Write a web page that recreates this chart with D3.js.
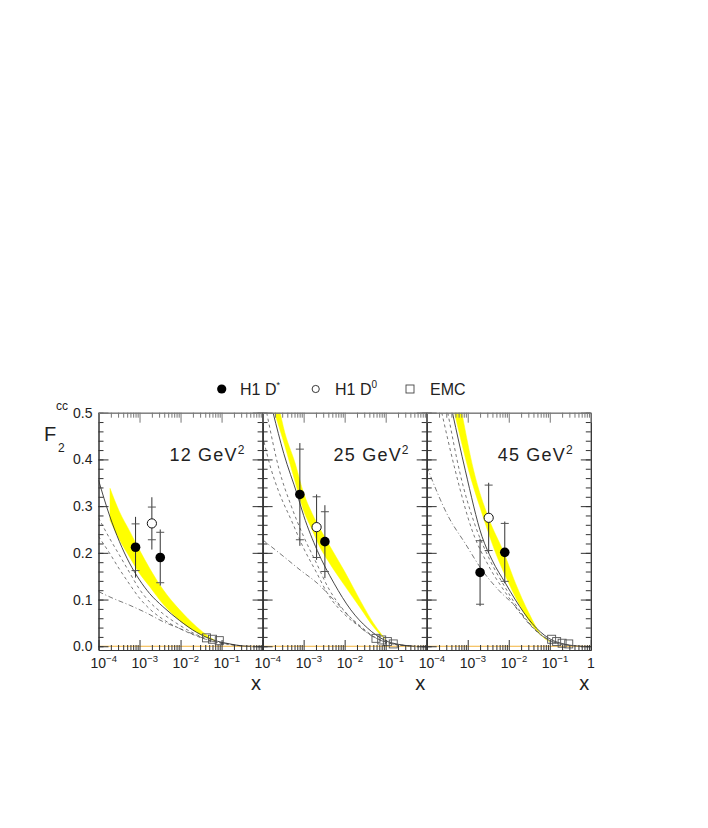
<!DOCTYPE html>
<html>
<head>
<meta charset="utf-8">
<script src="https://cdn.jsdelivr.net/npm/d3@7"></script>
<style>
  body { margin: 0; background: #fff; }
  text { font-family: "Liberation Sans", Arial, sans-serif; fill: #222; }
</style>
</head>
<body>
<svg id="chart" width="708" height="828"></svg>
<script>
// values, one entry per Q2 panel
var q2Labels = ["12", "25", "45"];

// H1 D* and D0 points: [x, F2, stat err, total err]
var dstar = [
  [[8.0e-4, 0.212, 0.050, 0.065], [3.2e-3, 0.190, 0.054, 0.060]],
  [[8.1e-4, 0.325, 0.097, 0.110], [3.3e-3, 0.224, 0.064, 0.078]],
  [[2.0e-3, 0.158, 0.068, 0.072], [8.0e-3, 0.201, 0.062, 0.066]]
];
var dzero = [
  [[2.0e-3, 0.263, 0.035, 0.056]],
  [[2.07e-3, 0.255, 0.065, 0.070]],
  [[3.24e-3, 0.275, 0.070, 0.075]]
];
// EMC points: [x, F2]
var emc = [
  [[0.043, 0.018], [0.060, 0.015], [0.088, 0.012]],
  [[0.058, 0.017], [0.080, 0.0135], [0.110, 0.010], [0.153, 0.005]],
  [[0.111, 0.015], [0.147, 0.010], [0.200, 0.0065], [0.290, 0.005]]
];

// theory curves: [x, F2]
var solid = [
  [[1e-4,0.356],[1.84e-4,0.281],[3.24e-4,0.224],[5.7e-4,0.178],[1e-3,0.142],[1.76e-3,0.113],[3.7e-3,0.085],[9.5e-3,0.055],[2.45e-2,0.030],[6.3e-2,0.0135],[0.16,0.005],[0.3,0.001],[0.5,0]],
  [[1.8e-4,0.5],[3.27e-4,0.413],[6.97e-4,0.325],[1e-3,0.28],[2.15e-3,0.205],[5.5e-3,0.135],[1.41e-2,0.078],[3.6e-2,0.039],[9.2e-2,0.0135],[0.24,0.003],[0.5,0]],
  [[4.25e-4,0.5],[8.7e-4,0.377],[2.23e-3,0.235],[3.9e-3,0.185],[8.3e-3,0.135],[1.46e-2,0.099],[3.7e-2,0.049],[9.5e-2,0.017],[0.245,0.004],[0.6,0]]
];
var bandHi = [
  [[1.91e-4,0.338],[3.24e-4,0.288],[5.7e-4,0.247],[1e-3,0.206],[1.76e-3,0.167],[3.7e-3,0.122],[9.5e-3,0.078],[2.45e-2,0.042],[4.7e-2,0.022],[0.07,0.012]],
  [[2.69e-4,0.5],[3.2e-4,0.47],[6.3e-4,0.39],[1e-3,0.328],[1.6e-3,0.285],[2.5e-3,0.252],[4e-3,0.22],[1e-2,0.16],[2.5e-2,0.095],[5e-2,0.05],[8e-2,0.025],[0.1,0.015]],
  [[7.2e-4,0.5],[1.39e-3,0.377],[3.24e-3,0.274],[7.55e-3,0.201],[1.46e-2,0.135],[3.1e-2,0.071],[6.6e-2,0.021],[0.1,0.01]]
];
var bandLo = [
  [[1.91e-4,0.270],[3.24e-4,0.228],[5.7e-4,0.191],[1e-3,0.156],[1.76e-3,0.128],[3.7e-3,0.091],[9.5e-3,0.055],[2.45e-2,0.030],[4.7e-2,0.017],[0.07,0.012]],
  [[1.94e-4,0.5],[3.2e-4,0.44],[6.3e-4,0.35],[1e-3,0.29],[1.6e-3,0.25],[2.5e-3,0.212],[4e-3,0.182],[1e-2,0.13],[2.5e-2,0.08],[5e-2,0.042],[8e-2,0.022],[0.1,0.015]],
  [[4.75e-4,0.5],[1.05e-3,0.377],[2.44e-3,0.274],[4.72e-3,0.201],[1e-2,0.135],[2.13e-2,0.078],[5.4e-2,0.028],[0.1,0.01]]
];
var dashA = [
  [[1e-4,0.275],[1.84e-4,0.232],[3.24e-4,0.195],[5.7e-4,0.158],[1e-3,0.122],[1.76e-3,0.095],[3.7e-3,0.070],[9.5e-3,0.045],[2.45e-2,0.025],[6.3e-2,0.011],[0.16,0.004],[0.3,0.001]],
  [[1.26e-4,0.5],[2.5e-4,0.38],[5e-4,0.3],[1e-3,0.235],[2e-3,0.18],[4e-3,0.125],[1e-2,0.075],[2.5e-2,0.042],[5e-2,0.021],[0.1,0.009],[0.2,0.003],[0.4,0.001]],
  [[3.27e-4,0.5],[6.5e-4,0.37],[1.5e-3,0.26],[3.24e-3,0.19],[8.3e-3,0.125],[2e-2,0.072],[5e-2,0.031],[0.12,0.009],[0.3,0.002]]
];
var dashB = [
  [[1e-4,0.235],[1.84e-4,0.2],[3.24e-4,0.165],[5.7e-4,0.133],[1e-3,0.103],[1.76e-3,0.08],[3.7e-3,0.058],[9.5e-3,0.038],[2.45e-2,0.022],[6.3e-2,0.01],[0.16,0.004],[0.3,0.001]],
  [[1e-4,0.45],[1.6e-4,0.38],[2.5e-4,0.33],[5e-4,0.27],[1e-3,0.21],[2e-3,0.16],[4e-3,0.11],[1e-2,0.068],[2.5e-2,0.04],[5e-2,0.021],[0.1,0.009],[0.2,0.003],[0.4,0.001]],
  [[2.33e-4,0.5],[4.94e-4,0.377],[1.27e-3,0.249],[3.24e-3,0.172],[8.3e-3,0.115],[2e-2,0.068],[5e-2,0.03],[0.12,0.009],[0.3,0.002]]
];
var dashDot = [
  [[1e-4,0.117],[2.2e-4,0.103],[5.7e-4,0.088],[1.5e-3,0.071],[3.7e-3,0.053],[9.5e-3,0.038],[2.45e-2,0.023],[6.3e-2,0.01],[0.16,0.004],[0.3,0.001]],
  [[1e-4,0.228],[3.27e-4,0.192],[8.3e-4,0.163],[2.15e-3,0.135],[5.5e-3,0.099],[1.41e-2,0.060],[3.6e-2,0.028],[9e-2,0.01],[0.2,0.003],[0.4,0.001]],
  [[1e-4,0.385],[3.4e-4,0.277],[8.7e-4,0.22],[2.24e-3,0.163],[5.7e-3,0.12],[1.46e-2,0.085],[3.7e-2,0.042],[9e-2,0.015],[0.25,0.003]]
];

var xMajor = [1e-4, 1e-3, 1e-2, 1e-1, 1];
var xExp = ["-4", "-3", "-2", "-1"];
var yMajor = [0, 0.1, 0.2, 0.3, 0.4, 0.5];

var svg = d3.select("#chart");
svg.append("rect").attr("width", 708).attr("height", 828).attr("fill", "#fff");

var left0 = 98.5, pw = 164.1, yTop = 412.7, yBottom = 650;
var y = d3.scaleLinear().domain([-0.008, 0.5]).range([yBottom, yTop]);

var xMinor = [];
[1e-4, 1e-3, 1e-2, 1e-1].forEach(function(d) {
  for (var m = 2; m <= 9; m++) xMinor.push(d * m);
});
var yMinor = d3.range(0, 0.501, 0.02);

var frameColor = "#333";

q2Labels.forEach(function(q, i) {
  var x0 = left0 + i * pw, x1 = x0 + pw;
  var x = d3.scaleLog().domain([1e-4, 1]).range([x0, x1]);
  var g = svg.append("g");

  g.append("clipPath").attr("id", "clip" + i)
    .append("rect").attr("x", x0).attr("y", yTop).attr("width", pw).attr("height", yBottom - yTop);
  var plot = g.append("g").attr("clip-path", "url(#clip" + i + ")");

  var line = d3.line().x(function(d) { return x(d[0]); }).y(function(d) { return y(d[1]); })
    .curve(d3.curveMonotoneX);

  // yellow band
  var hi = line(bandHi[i]);
  var lo = line(bandLo[i].slice().reverse());
  plot.append("path").attr("d", hi + "L" + lo.slice(1) + "Z")
    .attr("fill", "#ffff00").attr("stroke", "#ffff00").attr("stroke-width", 0.5);

  // zero line
  plot.append("line").attr("x1", x0).attr("x2", x1).attr("y1", y(0)).attr("y2", y(0))
    .attr("stroke", "#f2b23a").attr("stroke-width", 1);

  plot.append("path").attr("d", line(dashDot[i])).attr("fill", "none")
    .attr("stroke", "#555").attr("stroke-width", 0.8).attr("stroke-dasharray", "5,2.5,1,2.5");
  plot.append("path").attr("d", line(dashB[i])).attr("fill", "none")
    .attr("stroke", "#555").attr("stroke-width", 0.8).attr("stroke-dasharray", "3,3");
  plot.append("path").attr("d", line(dashA[i])).attr("fill", "none")
    .attr("stroke", "#555").attr("stroke-width", 0.8).attr("stroke-dasharray", "3,3");
  plot.append("path").attr("d", line(solid[i])).attr("fill", "none")
    .attr("stroke", "#333").attr("stroke-width", 0.9);

  // EMC squares
  plot.selectAll(".emc").data(emc[i]).enter().append("rect")
    .attr("x", function(d) { return x(d[0]) - 4; })
    .attr("y", function(d) { return y(d[1]) - 4; })
    .attr("width", 8).attr("height", 8)
    .attr("fill", "none").attr("stroke", "#555").attr("stroke-width", 0.9);

  // error bars
  var pts = dstar[i].concat(dzero[i]);
  pts.forEach(function(d) {
    var cx = x(d[0]);
    g.append("line").attr("x1", cx).attr("x2", cx)
      .attr("y1", y(d[1] + d[3])).attr("y2", y(d[1] - d[3]))
      .attr("stroke", "#333").attr("stroke-width", 1);
    [d[1] + d[2], d[1] - d[2]].forEach(function(v) {
      g.append("line").attr("x1", cx - 4).attr("x2", cx + 4)
        .attr("y1", y(v)).attr("y2", y(v))
        .attr("stroke", "#555").attr("stroke-width", 1);
    });
  });

  g.selectAll(".dz").data(dzero[i]).enter().append("circle")
    .attr("cx", function(d) { return x(d[0]); }).attr("cy", function(d) { return y(d[1]); })
    .attr("r", 4.6).attr("fill", "#fff").attr("stroke", "#111").attr("stroke-width", 1);
  g.selectAll(".ds").data(dstar[i]).enter().append("circle")
    .attr("cx", function(d) { return x(d[0]); }).attr("cy", function(d) { return y(d[1]); })
    .attr("r", 4.8).attr("fill", "#000");

  // frame ticks via axes, ticks pointing inwards
  function styleAxis(sel) {
    sel.selectAll("path").attr("stroke", frameColor);
    sel.selectAll("line").attr("stroke", frameColor);
    sel.selectAll("text").remove();
  }
  [[yMajor, 10], [yMinor, 5]].forEach(function(t) {
    g.append("g").attr("transform", "translate(" + x0 + ",0)")
      .call(d3.axisRight(y).tickValues(t[0]).tickSize(t[1]).tickSizeOuter(0).tickFormat(""))
      .call(styleAxis);
    g.append("g").attr("transform", "translate(" + x1 + ",0)")
      .call(d3.axisLeft(y).tickValues(t[0]).tickSize(t[1]).tickSizeOuter(0).tickFormat(""))
      .call(styleAxis);
  });
  [[xMajor, 10], [xMinor, 5]].forEach(function(t) {
    g.append("g").attr("transform", "translate(0," + yTop + ")")
      .call(d3.axisBottom(x).tickValues(t[0]).tickSize(t[1]).tickSizeOuter(0).tickFormat(""))
      .call(styleAxis).selectAll("path,line").attr("stroke", "#777");
    g.append("g").attr("transform", "translate(0," + yBottom + ")")
      .call(d3.axisTop(x).tickValues(t[0]).tickSize(t[1]).tickSizeOuter(0).tickFormat(""))
      .call(styleAxis);
  });

  // x tick labels
  xExp.forEach(function(e, k) {
    var t = g.append("text").attr("x", x(xMajor[k]) - 8).attr("y", 668).attr("font-size", 14);
    t.append("tspan").text("10");
    t.append("tspan").attr("dy", -6).attr("font-size", 9.5).text("\u2212" + e.slice(1));
  });
  if (i === q2Labels.length - 1) {
    g.append("text").attr("x", x(1)).attr("y", 668).attr("font-size", 14)
      .attr("text-anchor", "middle").text("1");
  }
  g.append("text").attr("x", x1 - 6.5).attr("y", 690).attr("font-size", 20)
    .attr("text-anchor", "middle").text("x");

  // Q2 label
  var ql = g.append("text").attr("x", x0 + 71).attr("y", 461).attr("font-size", 18)
    .attr("letter-spacing", 1.2);
  ql.append("tspan").text(q + " GeV");
  ql.append("tspan").attr("dy", -7).attr("font-size", 12).text("2");
});

// y tick labels
svg.append("g").attr("transform", "translate(" + left0 + ",0)")
  .call(d3.axisLeft(y).tickValues(yMajor).tickSize(0).tickPadding(6).tickFormat(d3.format(".1f")))
  .call(function(s) {
    s.select(".domain").remove();
    s.selectAll("text").attr("font-size", 14).attr("font-family", "Liberation Sans, Arial, sans-serif")
      .attr("fill", "#222");
  });

// y axis title F2^cc
var yt = svg.append("g");
yt.append("text").attr("x", 44).attr("y", 441).attr("font-size", 20).text("F");
yt.append("text").attr("x", 58).attr("y", 452).attr("font-size", 12).text("2");
yt.append("text").attr("x", 56).attr("y", 410).attr("font-size", 12).text("cc");

// legend
var lg = svg.append("g");
var ly = 389;
lg.append("circle").attr("cx", 221.7).attr("cy", ly).attr("r", 4.6).attr("fill", "#000");
var t1 = lg.append("text").attr("x", 240).attr("y", ly + 6).attr("font-size", 16);
t1.append("tspan").text("H1 D");
t1.append("tspan").attr("dy", -7).attr("font-size", 9).text("*");
lg.append("circle").attr("cx", 315.7).attr("cy", ly).attr("r", 3.6)
  .attr("fill", "#fff").attr("stroke", "#222").attr("stroke-width", 0.9);
var t2 = lg.append("text").attr("x", 335).attr("y", ly + 6).attr("font-size", 16);
t2.append("tspan").text("H1 D");
t2.append("tspan").attr("dy", -7).attr("font-size", 10).text("0");
lg.append("rect").attr("x", 406).attr("y", ly - 4).attr("width", 8).attr("height", 8)
  .attr("fill", "none").attr("stroke", "#444").attr("stroke-width", 0.9);
lg.append("text").attr("x", 430).attr("y", ly + 6).attr("font-size", 16).text("EMC");
</script>
</body>
</html>
